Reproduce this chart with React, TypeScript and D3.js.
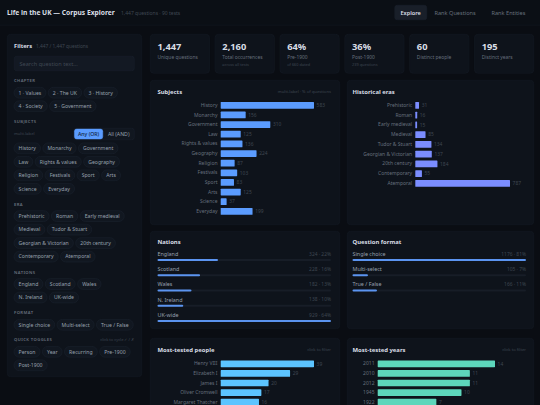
import { useEffect, useRef } from "react";
import * as d3 from "d3";

const chapters = ["1 · Values", "2 · The UK", "3 · History", "4 · Society", "5 · Government"];
const subjects = ["History", "Monarchy", "Government", "Law", "Rights & values", "Geography", "Religion", "Festivals", "Sport", "Arts", "Science", "Everyday"];
const subjectCounts = [583, 156, 310, 125, 136, 224, 87, 103, 83, 125, 37, 199];
const eras = ["Prehistoric", "Roman", "Early medieval", "Medieval", "Tudor & Stuart", "Georgian & Victorian", "20th century", "Contemporary", "Atemporal"];
const eraCounts = [31, 16, 15, 85, 134, 137, 184, 55, 787];
const nations = ["England", "Scotland", "Wales", "N. Ireland", "UK-wide"];
const nationCounts = [324, 228, 182, 138, 929];
const nationShares = ["22%", "16%", "13%", "10%", "64%"];
const formats = ["Single choice", "Multi-select", "True / False"];
const formatCounts = [1176, 105, 166];
const formatShares = ["81%", "7%", "11%"];
const toggles = ["Person", "Year", "Recurring", "Pre-1900", "Post-1900"];
const people = ["Henry VIII", "Elizabeth I", "James I", "Oliver Cromwell", "Margaret Thatcher"];
const peopleCounts = [39, 29, 20, 17, 16];
const years = ["2011", "2010", "2012", "1945", "1922"];
const yearCounts = [14, 11, 11, 10, 7];
const kpiValues = ["1,447", "2,160", "64%", "36%", "60", "195"];
const kpiLabels = ["Unique questions", "Total occurrences", "Pre-1900", "Post-1900", "Distinct people", "Distinct years"];
const kpiNotes = ["", "across all tests", "of 660 dated", "239 questions", "", ""];
const tabs = ["Explore", "Rank Questions", "Rank Entities"];

const FONT = "'Noto Sans', sans-serif";
const BG = "#0a0d13";
const PANEL = "#0e131b";
const EDGE = "#161c26";
const TITLE = "#d9dee6";
const SOFT = "#98a1ae";
const DIM = "#666f7c";
const FAINT = "#3f4752";

type G = d3.Selection<SVGGElement, unknown, null, undefined>;

function label(g: G, x: number, y: number, str: string, size: number, fill: string, weight = 400, anchor = "start") {
  return g.append("text")
    .attr("x", x)
    .attr("y", y)
    .attr("dy", "0.35em")
    .attr("font-size", size)
    .attr("font-weight", weight)
    .attr("fill", fill)
    .attr("text-anchor", anchor)
    .text(str);
}

function box(g: G, x: number, y: number, w: number, h: number, r = 3.5, fill = PANEL, stroke = EDGE) {
  return g.append("rect")
    .attr("x", x + 0.25)
    .attr("y", y + 0.25)
    .attr("width", w - 0.5)
    .attr("height", h - 0.5)
    .attr("rx", r)
    .attr("fill", fill)
    .attr("stroke", stroke)
    .attr("stroke-width", 0.5);
}

// pills flow left to right and wrap at the panel edge
function pills(g: G, names: string[], top: number) {
  let x = 14;
  let y = top;
  names.forEach((name) => {
    const pill = g.append("g");
    const rect = pill.append("rect");
    const t = pill.append("text")
      .attr("y", 0)
      .attr("dy", "0.35em")
      .attr("font-size", 5.15)
      .attr("fill", SOFT)
      .text(name);
    const w = (t.node() as SVGTextElement).getComputedTextLength() + 9.2;
    if (x + w > 135) {
      x = 14;
      y += 13.5;
    }
    pill.attr("transform", `translate(${x},${y})`);
    t.attr("x", 4.6);
    rect.attr("x", 0).attr("y", -5.4).attr("width", w).attr("height", 10.8).attr("rx", 5.4)
      .attr("fill", "#111720").attr("stroke", "#1d2430").attr("stroke-width", 0.5);
    x += w + 2.3;
  });
}

function hbars(g: G, names: string[], values: number[], color: string, x0: number, x1: number, top: number, step: number) {
  const x = d3.scaleLinear().domain([0, d3.max(values) as number]).range([x0, x1]);
  const y = d3.scaleBand<string>()
    .domain(names)
    .range([top, top + step * names.length])
    .paddingInner(0.3)
    .paddingOuter(0.15);
  const axis = g.append("g")
    .attr("transform", `translate(${x0},0)`)
    .call(d3.axisLeft(y).tickSize(0).tickPadding(3.2));
  axis.select(".domain").remove();
  axis.selectAll("text").attr("font-size", 5).attr("font-family", FONT).attr("fill", DIM);
  g.selectAll(".bar")
    .data(names)
    .join("rect")
    .attr("x", x0)
    .attr("y", (d) => y(d) as number)
    .attr("width", (_, i) => x(values[i]) - x0)
    .attr("height", y.bandwidth())
    .attr("rx", 0.6)
    .attr("fill", color);
  g.selectAll(".val")
    .data(names)
    .join("text")
    .attr("x", (_, i) => x(values[i]) + 2.6)
    .attr("y", (d) => (y(d) as number) + y.bandwidth() / 2)
    .attr("dy", "0.35em")
    .attr("font-size", 4.9)
    .attr("fill", FAINT)
    .text((_, i) => values[i]);
}

function meters(g: G, names: string[], values: number[], shares: string[], max: number, x0: number, x1: number, top: number) {
  const x = d3.scaleLinear().domain([0, max]).range([0, x1 - x0]);
  const y = d3.scalePoint<string>().domain(names).range([top, top + 15.25 * (names.length - 1)]);
  names.forEach((name, i) => {
    const cy = y(name) as number;
    label(g, x0, cy, name, 5.4, SOFT);
    label(g, x1, cy, `${values[i]} · ${shares[i]}`, 4.9, FAINT, 400, "end");
    g.append("rect").attr("x", x0).attr("y", cy + 4.9).attr("width", x1 - x0).attr("height", 2.2).attr("rx", 1.1).attr("fill", "#171d27");
    g.append("rect").attr("x", x0).attr("y", cy + 4.9).attr("width", x(values[i])).attr("height", 2.2).attr("rx", 1.1).attr("fill", "#5b94f0");
  });
}

export default function App() {
  const ref = useRef<SVGSVGElement>(null);

  useEffect(() => {
    const svg = d3.select(ref.current as SVGSVGElement);
    svg.selectAll("*").remove();
    const root = svg.append("g").attr("font-family", FONT) as unknown as G;

    root.append("rect").attr("width", 540).attr("height", 405).attr("fill", BG);

    // header
    root.append("rect").attr("width", 540).attr("height", 25).attr("fill", "#0b0f15");
    root.append("line").attr("x1", 0).attr("x2", 540).attr("y1", 25.2).attr("y2", 25.2).attr("stroke", "#141922").attr("stroke-width", 0.6);
    label(root, 7, 12.8, "Life in the UK — Corpus Explorer", 6.7, TITLE, 700);
    label(root, 121, 13, "1,447 questions · 90 tests", 5, FAINT);
    box(root, 394.5, 5, 32.5, 15, 2.5, "#191f29", "#1c232e");
    const tabX = [400.5, 434.5, 491.5];
    tabs.forEach((t, i) => label(root, tabX[i], 12.7, t, 5.6, i === 0 ? TITLE : DIM, i === 0 ? 600 : 400));

    // kpis
    const kpi = d3.scaleBand<number>().domain(d3.range(kpiValues.length)).range([150, 534]).paddingInner(0.078);
    kpiValues.forEach((v, i) => {
      const x = kpi(i) as number;
      box(root, x, 34, kpi.bandwidth(), 39.5);
      label(root, x + 7.5, 46.8, v, 9.3, TITLE, 700);
      label(root, x + 7.5, 57.2, kpiLabels[i], 4.9, DIM);
      if (kpiNotes[i]) label(root, x + 7.5, 64.8, kpiNotes[i], 3.9, FAINT);
    });

    // filters sidebar
    box(root, 7, 34, 135, 343);
    label(root, 14, 45.7, "Filters", 5.8, TITLE, 700);
    label(root, 36, 45.9, "1,447 / 1,447 questions", 4.8, FAINT);
    box(root, 14, 56, 120.5, 15, 2.5, "#131923", "#1c232e");
    label(root, 19.5, 63.7, "Search question text...", 5.6, FAINT);

    const head = (y: number, t: string) => label(root, 14, y, t, 4.2, DIM, 600).attr("letter-spacing", 0.4);
    head(81, "CHAPTER");
    pills(root, chapters, 92.7);
    head(121.8, "SUBJECTS");
    label(root, 14, 134, "multi-label", 4.1, FAINT);
    box(root, 73.5, 128, 61, 12, 2.5, "#111720", "#1c232e");
    box(root, 74.2, 128.8, 28.8, 10.4, 2.2, "#5b9cff", "#5b9cff");
    label(root, 88.6, 134, "Any (OR)", 5.2, "#10233f", 500, "middle");
    label(root, 118.7, 134, "All (AND)", 5.2, SOFT, 400, "middle");
    pills(root, subjects, 148.3);
    head(204.7, "ERA");
    pills(root, eras, 216.1);
    head(272.4, "NATIONS");
    pills(root, nations, 284);
    head(313, "FORMAT");
    pills(root, formats, 324.8);
    head(340, "QUICK TOGGLES");
    label(root, 134, 340, "click to cycle ✓ / ✗", 4, FAINT, 400, "end");
    pills(root, toggles, 351.8);

    // chart panels
    box(root, 150, 80, 190, 145);
    label(root, 157.5, 91.5, "Subjects", 5.9, TITLE, 700);
    label(root, 331, 91.7, "multi-label · % of questions", 4.2, FAINT, 400, "end");
    hbars(root.append("g"), subjects, subjectCounts, "#5b9cff", 220.7, 314, 100.5, 9.64);

    box(root, 347, 80, 187, 145);
    label(root, 352.5, 91.5, "Historical eras", 5.9, TITLE, 700);
    hbars(root.append("g"), eras, eraCounts, "#7b8dff", 415.3, 510, 100.5, 9.75);

    box(root, 150, 231, 190, 98);
    label(root, 157.5, 241.5, "Nations", 5.9, TITLE, 700);
    meters(root.append("g"), nations, nationCounts, nationShares, 929, 157.5, 331, 254);

    box(root, 347, 231, 187, 98);
    label(root, 352.5, 241.5, "Question format", 5.9, TITLE, 700);
    meters(root.append("g"), formats, formatCounts, formatShares, 1176, 352.5, 526, 254);

    box(root, 150, 338, 190, 80);
    label(root, 157.5, 349.8, "Most-tested people", 5.9, TITLE, 700);
    label(root, 331, 349.8, "click to filter", 4.2, FAINT, 400, "end");
    hbars(root.append("g"), people, peopleCounts, "#5cc4ff", 220.7, 314, 359, 9.6);

    box(root, 347, 338, 187, 80);
    label(root, 352.5, 349.8, "Most-tested years", 5.9, TITLE, 700);
    label(root, 526, 349.8, "click to filter", 4.2, FAINT, 400, "end");
    hbars(root.append("g"), years, yearCounts, "#5dd6bb", 377.7, 495, 359, 9.6);
  }, []);

  return <svg ref={ref} width={540} height={405} style={{ position: "absolute", left: 0, top: 0, display: "block" }} />;
}
